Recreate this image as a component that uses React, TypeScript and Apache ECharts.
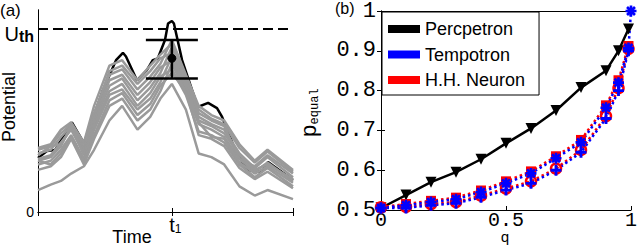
import React, { useEffect, useRef } from 'react';
import * as echarts from 'echarts';

// ---------- Panel (a): membrane potential traces ----------
const timeKnots = [0, 5, 9, 13, 18, 22, 28, 33, 39, 44, 48, 52.5, 58, 63, 68, 73, 79, 85, 90, 100];
const gray1 = [0.35, 0.37, 0.45, 0.49, 0.38, 0.58, 0.80, 0.83, 0.72, 0.80, 0.86, 0.92, 0.73, 0.56, 0.51, 0.48, 0.35, 0.27, 0.33, 0.22];
const gray2 = [0.34, 0.36, 0.43, 0.48, 0.37, 0.53, 0.77, 0.80, 0.70, 0.77, 0.84, 0.87, 0.70, 0.52, 0.48, 0.45, 0.32, 0.24, 0.30, 0.19];
const gray3 = [0.32, 0.34, 0.41, 0.47, 0.35, 0.54, 0.75, 0.78, 0.67, 0.74, 0.81, 0.94, 0.75, 0.58, 0.53, 0.50, 0.37, 0.28, 0.34, 0.23];
const gray4 = [0.31, 0.36, 0.37, 0.46, 0.34, 0.51, 0.72, 0.75, 0.64, 0.71, 0.79, 0.83, 0.67, 0.48, 0.45, 0.41, 0.29, 0.22, 0.27, 0.17];
const gray5 = [0.29, 0.31, 0.38, 0.45, 0.32, 0.49, 0.69, 0.73, 0.61, 0.68, 0.76, 0.90, 0.72, 0.54, 0.50, 0.47, 0.29, 0.25, 0.31, 0.21];
const gray6 = [0.28, 0.30, 0.36, 0.47, 0.31, 0.47, 0.66, 0.70, 0.58, 0.65, 0.74, 0.78, 0.64, 0.44, 0.42, 0.38, 0.26, 0.19, 0.24, 0.14];
const gray7 = [0.26, 0.28, 0.34, 0.42, 0.29, 0.45, 0.64, 0.67, 0.56, 0.62, 0.71, 0.85, 0.69, 0.50, 0.47, 0.43, 0.31, 0.23, 0.26, 0.18];
const gray8 = [0.28, 0.26, 0.32, 0.41, 0.28, 0.42, 0.61, 0.65, 0.53, 0.59, 0.69, 0.76, 0.66, 0.42, 0.40, 0.36, 0.24, 0.18, 0.22, 0.13];
const gray9 = [0.23, 0.25, 0.30, 0.40, 0.26, 0.40, 0.58, 0.62, 0.50, 0.56, 0.66, 0.81, 0.65, 0.49, 0.41, 0.40, 0.27, 0.21, 0.25, 0.16];
const gray10 = [0.12, 0.15, 0.17, 0.21, 0.25, 0.34, 0.50, 0.58, 0.45, 0.52, 0.62, 0.70, 0.56, 0.32, 0.30, 0.26, 0.14, 0.09, 0.12, 0.07];
const grayTraces = [gray1, gray2, gray3, gray4, gray5, gray6, gray7, gray8, gray9, gray10];

const blackTime = [0, 3.5, 6.7, 9.4, 13.3, 18, 22, 25.5, 30.6, 33.3, 34.5, 38.8, 42.7, 45, 47, 49.8, 51, 52.5, 53.3, 56.5, 60.4, 62.7, 66.7, 70.2, 72.2, 77.3, 82, 87.8, 90.2, 100];
const blackPot = [0.295, 0.333, 0.339, 0.40, 0.49, 0.377, 0.53, 0.667, 0.83, 0.87, 0.85, 0.72, 0.776, 0.83, 0.84, 0.94, 1.03, 1.044, 1.03, 0.83, 0.667, 0.574, 0.596, 0.568, 0.52, 0.34, 0.23, 0.22, 0.273, 0.175];

const uth = 1;
const t1 = 52.5;
const potMax = 1.104;
const errorBar = [52.5, 0.73, 0.84, 0.94]; // time, low, mean, high

// ---------- Panel (b): p_equal vs q ----------
const qValues = [0, 0.1, 0.2, 0.3, 0.4, 0.5, 0.6, 0.7, 0.8, 0.9, 0.95, 0.99];
const qTempoA = [0, 0.1, 0.2, 0.3, 0.4, 0.5, 0.6, 0.7, 0.8, 0.9, 0.95, 0.99, 1];
const perceptron = [0.505, 0.5375, 0.57, 0.595, 0.6275, 0.6675, 0.705, 0.75, 0.8075, 0.85, 0.90, 0.955];
const tempotronA = [0.505, 0.512, 0.52, 0.527, 0.545, 0.567, 0.592, 0.63, 0.67, 0.757, 0.82, 0.907, 1.0];
const tempotronB = [0.505, 0.505, 0.512, 0.517, 0.532, 0.55, 0.567, 0.60, 0.645, 0.73, 0.80, 0.90];
const hhA = [0.507, 0.515, 0.523, 0.531, 0.549, 0.572, 0.597, 0.635, 0.676, 0.763, 0.826, 0.912];
const hhB = [0.507, 0.508, 0.515, 0.52, 0.536, 0.554, 0.572, 0.604, 0.651, 0.736, 0.806, 0.905];

const sans = '"Liberation Sans", Arial, Helvetica, sans-serif';
const mono = '"Liberation Mono", "Courier New", monospace';
const grayColor = '#9a9a9a';
const blue = '#0000ff';
const red = '#ff0000';

const starPath =
  'path://M-1.2,-5H1.2V-1.2H5V1.2H1.2V5H-1.2V1.2H-5V-1.2H-1.2Z M-4.45,-2.75L-2.75,-4.45L4.45,2.75L2.75,4.45Z M2.75,-4.45L4.45,-2.75L-2.75,4.45L-4.45,2.75Z';
const plusPath = 'path://M-1.3,-5H1.3V-1.3H5V1.3H1.3V5H-1.3V1.3H-5V-1.3H-1.3Z';

const pairs = (xs: number[], ys: number[]) => xs.map((x, i) => [x, ys[i]]);

const boxLine = { show: true, lineStyle: { color: '#000', width: 1 } };
const inTick = { show: true, inside: true, length: 4, lineStyle: { color: '#000', width: 1 } };
const noSplit = { show: false };

function buildOption() {
  const graySeries = grayTraces.map((g, i) => ({
    name: 'trace' + (i + 1),
    type: 'line',
    xAxisIndex: 0,
    yAxisIndex: 0,
    data: pairs(timeKnots, g),
    symbol: 'none',
    lineStyle: { color: grayColor, width: 2.5 },
    z: 3,
  }));

  const lineB = (name: string, xs: number[], ys: number[], color: string, symbol: string, size: number, extra: any = {}) => ({
    name,
    type: 'line',
    xAxisIndex: 2,
    yAxisIndex: 2,
    data: pairs(xs, ys),
    symbol,
    symbolSize: size,
    showSymbol: true,
    color,
    itemStyle: { color },
    lineStyle: { color, width: 2.5, type: [2.5, 3] },
    z: 3,
    ...extra,
  });

  return {
    animation: false,
    backgroundColor: '#ffffff',
    textStyle: { fontFamily: sans },
    grid: [
      { left: 38, top: 10, width: 255, height: 202 },
      { left: 381, top: 10, width: 252, height: 200 },
    ],
    xAxis: [
      {
        gridIndex: 0, type: 'value', min: 0, max: 100, interval: t1, position: 'bottom',
        axisLine: boxLine, axisTick: inTick, splitLine: noSplit,
        axisLabel: {
          margin: 3, color: '#000', align: 'center', padding: [0, 0, 0, 7],
          formatter: (v: number) => (v === t1 ? '{t|t}{s|1}' : ''),
          rich: {
            t: { fontSize: 20, lineHeight: 20, fontFamily: sans, verticalAlign: 'top', color: '#000' },
            s: { fontSize: 12, lineHeight: 12, fontFamily: sans, verticalAlign: 'bottom', padding: [13, 0, 0, 0], color: '#000' },
          },
        },
      },
      {
        gridIndex: 0, type: 'value', min: 0, max: 100, interval: t1, position: 'top',
        axisLine: boxLine, axisTick: inTick, splitLine: noSplit, axisLabel: { show: false },
      },
      {
        gridIndex: 1, type: 'value', min: 0, max: 1, interval: 0.5, position: 'bottom',
        axisLine: boxLine, axisTick: inTick, splitLine: noSplit,
        axisLabel: { margin: 1, color: '#000', fontFamily: mono, fontSize: 20, lineHeight: 18 },
      },
      {
        gridIndex: 1, type: 'value', min: 0, max: 1, interval: 0.5, position: 'top',
        axisLine: boxLine, axisTick: inTick, splitLine: noSplit, axisLabel: { show: false },
      },
    ],
    yAxis: [
      {
        gridIndex: 0, type: 'value', min: 0, max: potMax, interval: uth, position: 'left',
        axisLine: boxLine, axisTick: { show: false }, splitLine: noSplit,
        axisLabel: {
          margin: 4, color: '#000', align: 'right', padding: [10, 0, 0, 0],
          formatter: (v: number) => (v === 0 ? '{z|0}' : v === uth ? '{u|U}{s|th}' : ''),
          rich: {
            z: { fontSize: 14, lineHeight: 14, fontFamily: sans, padding: [0, 0, 10, 0], color: '#000' },
            u: { fontSize: 20, lineHeight: 20, fontFamily: sans, verticalAlign: 'top', color: '#000' },
            s: { fontSize: 16, lineHeight: 16, fontFamily: sans, fontWeight: 'bold', verticalAlign: 'bottom', padding: [12, 0, 0, 0], color: '#000' },
          },
        },
      },
      {
        gridIndex: 0, type: 'value', min: 0, max: potMax, interval: uth, position: 'right',
        axisLine: boxLine, axisTick: { show: false }, splitLine: noSplit, axisLabel: { show: false },
      },
      {
        gridIndex: 1, type: 'value', min: 0.5, max: 1, interval: 0.1, position: 'left',
        axisLine: boxLine, axisTick: inTick, splitLine: noSplit,
        axisLabel: {
          margin: 5, color: '#000', fontFamily: mono, fontSize: 22,
          formatter: (v: number) => (Math.abs(v - 1) < 1e-9 ? '1' : v.toFixed(1)),
        },
      },
      {
        gridIndex: 1, type: 'value', min: 0.5, max: 1, interval: 0.1, position: 'right',
        axisLine: boxLine, axisTick: inTick, splitLine: noSplit, axisLabel: { show: false },
      },
    ],
    legend: {
      orient: 'vertical',
      left: 382,
      top: 12,
      itemWidth: 32,
      itemHeight: 8,
      itemGap: 7.5,
      padding: [8, 14, 6, 6],
      borderColor: '#000',
      borderWidth: 1,
      backgroundColor: '#fff',
      icon: 'rect',
      selectedMode: false,
      itemStyle: { borderWidth: 0 },
      textStyle: { fontSize: 18, fontFamily: sans, color: '#000' },
      data: [
        { name: 'Percpetron', icon: 'rect', itemStyle: { color: '#000', borderWidth: 0 } },
        { name: 'Tempotron', icon: 'rect', itemStyle: { color: blue, borderWidth: 0 } },
        { name: 'H.H. Neuron', icon: 'rect', itemStyle: { color: red, borderWidth: 0 } },
      ],
    },
    graphic: [
      { type: 'text', x: 0, y: 2, style: { text: '(a)', fontSize: 17, fontFamily: sans, fill: '#000' } },
      { type: 'text', x: 335, y: 0, style: { text: '(b)', fontSize: 16, fontFamily: sans, fill: '#000' } },
      {
        type: 'text', x: 9, y: 107, rotation: Math.PI / 2,
        style: { text: 'Potential', fontSize: 18, fontFamily: sans, fill: '#000', align: 'center', verticalAlign: 'middle' },
      },
      {
        type: 'text', x: 132, y: 237,
        style: { text: 'Time', fontSize: 18, fontFamily: sans, fill: '#000', align: 'center', verticalAlign: 'middle' },
      },
      {
        type: 'text', x: 505, y: 238.5,
        style: { text: 'q', fontSize: 15, lineHeight: 11, fontFamily: mono, fill: '#000', align: 'center', verticalAlign: 'middle' },
      },
      {
        type: 'text', x: 310, y: 113, rotation: Math.PI / 2,
        style: {
          text: '{p|p}{s|equal}', align: 'center', verticalAlign: 'middle',
          rich: {
            p: { fontSize: 22, lineHeight: 22, fontFamily: mono, verticalAlign: 'top', fill: '#000', color: '#000' },
            s: { fontSize: 12, lineHeight: 12, fontFamily: mono, verticalAlign: 'bottom', padding: [16, 0, 0, 0], fill: '#000', color: '#000' },
          },
        },
      },
    ],
    series: [
      {
        name: 'black',
        type: 'line',
        xAxisIndex: 0,
        yAxisIndex: 0,
        data: pairs(blackTime, blackPot),
        symbol: 'none',
        lineStyle: { color: '#000', width: 2.5 },
        z: 2,
        markLine: {
          silent: true,
          symbol: ['none', 'none'],
          label: { show: false },
          lineStyle: { color: '#000', width: 2, type: [10, 5] },
          data: [{ yAxis: uth }],
        },
      },
      ...graySeries,
      {
        name: 'errorbar',
        type: 'custom',
        xAxisIndex: 0,
        yAxisIndex: 0,
        data: [errorBar],
        encode: { x: 0, y: [1, 2, 3] },
        z: 5,
        renderItem: (params: any, api: any) => {
          const x = api.value(0);
          const lo = api.coord([x, api.value(1)]);
          const mid = api.coord([x, api.value(2)]);
          const hi = api.coord([x, api.value(3)]);
          const cap = 26;
          const style = { stroke: '#000', lineWidth: 2.5, fill: 'none' };
          return {
            type: 'group',
            children: [
              { type: 'line', shape: { x1: lo[0], y1: lo[1], x2: hi[0], y2: hi[1] }, style },
              { type: 'line', shape: { x1: hi[0] - cap, y1: hi[1], x2: hi[0] + cap, y2: hi[1] }, style },
              { type: 'line', shape: { x1: lo[0] - cap, y1: lo[1], x2: lo[0] + cap, y2: lo[1] }, style },
              { type: 'circle', shape: { cx: mid[0], cy: mid[1], r: 4 }, style: { fill: '#000', stroke: '#000' } },
            ],
          };
        },
      },
      {
        name: 'Percpetron',
        type: 'line',
        xAxisIndex: 2,
        yAxisIndex: 2,
        data: pairs(qValues, perceptron),
        symbol: 'triangle',
        symbolRotate: 180,
        symbolSize: 11,
        color: '#000',
        itemStyle: { color: '#000' },
        lineStyle: { color: '#000', width: 2.5 },
        z: 3,
      },
      lineB('H.H. Neuron', qValues, hhA, red, 'rect', 10),
      lineB('H.H. Neuron', qValues, hhB, red, 'circle', 10, {
        itemStyle: { color: 'rgba(0,0,0,0)', borderColor: red, borderWidth: 2.5 },
      }),
      lineB('Tempotron', qTempoA, tempotronA, blue, starPath, 11),
      lineB('Tempotron', qValues, tempotronB, blue, plusPath, 11),
    ],
  };
}

export default function App() {
  const ref = useRef<HTMLDivElement>(null);
  useEffect(() => {
    if (!ref.current) return;
    const chart = echarts.init(ref.current, undefined, { renderer: 'svg' });
    chart.setOption(buildOption() as any);
    return () => chart.dispose();
  }, []);
  return (
    <div
      ref={ref}
      style={{ position: 'fixed', left: 0, top: 0, width: 640, height: 246, background: '#fff' }}
    />
  );
}
